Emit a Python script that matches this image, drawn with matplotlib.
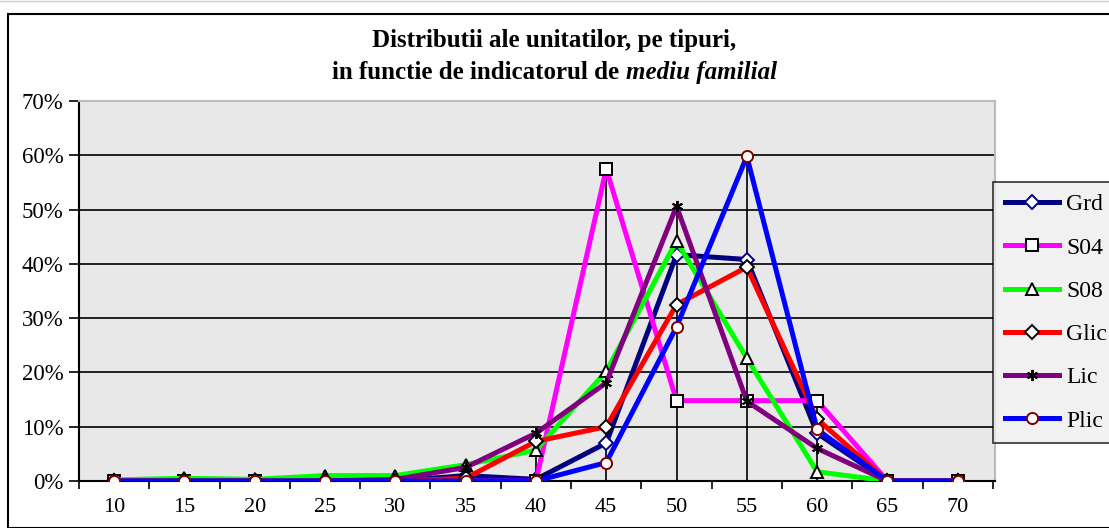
import matplotlib
matplotlib.use("Agg")
import matplotlib.pyplot as plt
from matplotlib.patches import Rectangle
from matplotlib.ticker import FuncFormatter

categories = ["10", "15", "20", "25", "30", "35", "40", "45", "50", "55", "60", "65", "70"]

grd = [0.0, 0.0, 0.0, 0.0, 0.0, 1.0, 0.3, 7.0, 41.7, 40.8, 8.8, 0.0, 0.0]
s04 = [0.0, 0.0, 0.0, 0.0, 0.0, 0.0, 0.0, 57.5, 14.8, 14.8, 14.8, 0.0, 0.0]
s08 = [0.2, 0.5, 0.3, 1.0, 1.0, 3.0, 5.7, 20.2, 44.2, 22.6, 1.7, 0.0, 0.0]
glic = [0.0, 0.0, 0.0, 0.0, 0.0, 0.5, 7.3, 10.0, 32.5, 39.4, 11.4, 0.0, 0.0]
lic = [0.0, 0.0, 0.0, 0.0, 0.3, 2.5, 8.8, 18.1, 50.6, 14.7, 6.0, 0.0, 0.0]
plic = [0.0, 0.0, 0.0, 0.0, 0.0, 0.0, 0.0, 3.4, 28.4, 59.8, 9.5, 0.0, 0.0]

series = [
    ("Grd", grd, "#000080", "D", "#000080"),
    ("S04", s04, "#FF00FF", "s", "black"),
    ("S08", s08, "#00FF00", "^", "black"),
    ("Glic", glic, "#FF0000", "D", "black"),
    ("Lic", lic, "#800080", (6, 2, 0), "black"),
    ("Plic", plic, "#0000FF", "o", "#800000"),
]

plt.rcParams['font.family'] = ['Liberation Serif', 'DejaVu Serif']

W, H = 1109, 528
fig = plt.figure(figsize=(W / 100, H / 100), dpi=100)
# outer chart frame
fig.patches.append(Rectangle((8 / W, 0), 1.0, 1 - 14 / H, transform=fig.transFigure,
                             fill=False, edgecolor="black", linewidth=1.5))
fig.lines.append(plt.Line2D([0, 1], [1 - 1 / H, 1 - 1 / H], transform=fig.transFigure,
                            color="#CCCCCC", linewidth=1))

ax = fig.add_axes([79 / W, 47 / H, 916 / W, 380 / H])
ax.set_facecolor("#E8E8E8")

x = list(range(len(categories)))

# drop lines
tops = [max(vals) for vals in zip(grd, s04, s08, glic, lic, plic)]
ax.vlines(x, 0, tops, colors="black", linewidth=1.2, zorder=2)

for name, vals, color, marker, edge in series:
    ms = 8 if marker != "D" else 7.5
    ax.plot(x, vals, color=color, linewidth=3.6, marker=marker, markersize=ms,
            markerfacecolor="white" if marker != (6, 2, 0) else "black",
            markeredgecolor=edge, markeredgewidth=1.4, label=name, zorder=3)

ax.set_xlim(-0.5, len(categories) - 0.5 + 0.03)
ax.set_ylim(0, 70)
ax.set_yticks(range(0, 71, 10))
ax.yaxis.set_major_formatter(FuncFormatter(lambda v, p: "%d%%" % v))
ax.set_xticks(x)
ax.set_xticklabels(categories)
ax.set_xticks([i - 0.5 for i in range(len(categories) + 1)], minor=True)
ax.tick_params(axis="x", which="major", length=0, labelsize=16, pad=12)
ax.tick_params(axis="x", which="minor", length=6, width=1.2, direction="out")
ax.tick_params(axis="y", length=7, width=1.2, direction="out", labelsize=16.5, pad=4)
ax.grid(axis="y", color="black", linewidth=1.2)
ax.set_axisbelow(True)

for side in ["top", "right"]:
    ax.spines[side].set_color("#BBBBBB")
    ax.spines[side].set_linewidth(1.5)
for side in ["left", "bottom"]:
    ax.spines[side].set_linewidth(1.5)

# title, two lines, last words in italics
fig.text(0.5, 1 - 40 / H, "Distributii ale unitatilor, pe tipuri,", ha="center", va="center",
         fontsize=18, fontweight="bold")
part1 = fig.text(0, 1 - 73 / H, "in functie de indicatorul de ", ha="left", va="center",
                 fontsize=18, fontweight="bold")
part2 = fig.text(0, 1 - 73 / H, "mediu familial", ha="left", va="center",
                 fontsize=18, fontweight="bold", fontstyle="italic")
fig.canvas.draw()
r = fig.canvas.get_renderer()
w1 = part1.get_window_extent(r).width
w2 = part2.get_window_extent(r).width
start = (W - w1 - w2) / 2
part1.set_x(start / W)
part2.set_x((start + w1) / W)

leg = fig.legend(loc="upper left", bbox_to_anchor=(993 / W, 1 - 182 / H),
                 fontsize=17, frameon=True, fancybox=False, edgecolor="black",
                 handlelength=2.3, labelspacing=0.92, borderpad=0.5, handletextpad=0.3,
                 borderaxespad=0)
leg.get_frame().set_facecolor("#EEEEEE")
leg.get_frame().set_linewidth(1.2)

fig.savefig("out.png", dpi=100)
